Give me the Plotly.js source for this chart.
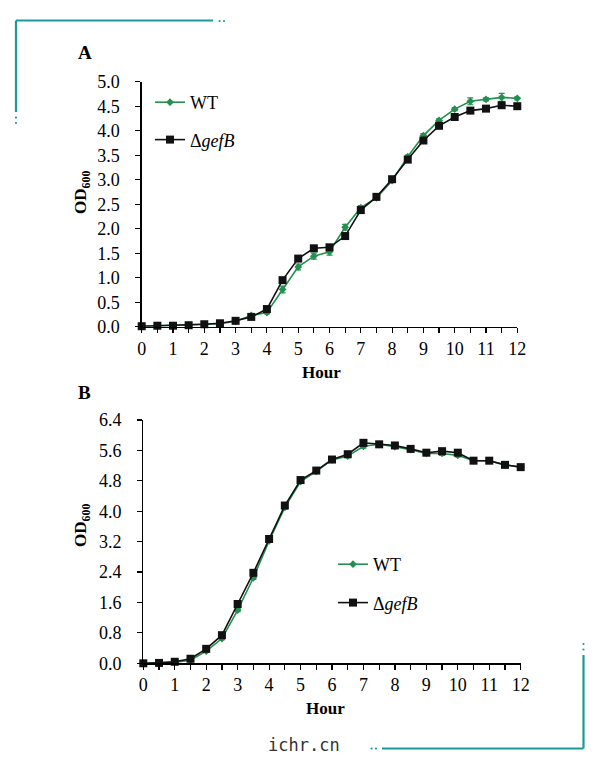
<!DOCTYPE html>
<html>
<head>
<meta charset="utf-8">
<script src="https://cdn.plot.ly/plotly-3.0.1.min.js"></script>
<style>html,body{margin:0;padding:0;background:#fff;}#chart{width:600px;height:766px;}</style>
</head>
<body>
<div id="chart"></div>
<script>
// ---- data ----
const hours = [0,0.5,1,1.5,2,2.5,3,3.5,4,4.5,5,5.5,6,6.5,7,7.5,8,8.5,9,9.5,10,10.5,11,11.5,12];
const xTickVals = [0,1,2,3,4,5,6,7,8,9,10,11,12];
const xTickText = ['0','1','2','3','4','5','6','7','8','9','10','11','12'];

const wtA    = [0.01,0.02,0.02,0.03,0.04,0.06,0.11,0.23,0.29,0.76,1.22,1.44,1.53,2.03,2.43,2.63,2.98,3.47,3.90,4.21,4.44,4.60,4.64,4.68,4.66];
const wtAErr = [0,0,0,0,0,0,0.01,0.02,0.03,0.07,0.06,0.06,0.07,0.06,0.04,0.03,0.03,0.03,0.04,0.03,0.03,0.07,0.03,0.08,0.03];
const mutA    = [0.01,0.02,0.02,0.03,0.05,0.07,0.12,0.20,0.36,0.95,1.39,1.60,1.62,1.85,2.38,2.65,3.01,3.41,3.80,4.10,4.28,4.41,4.45,4.52,4.50];
const mutAErr = [0,0,0,0,0,0,0.01,0.02,0.02,0.04,0.03,0.03,0.03,0.03,0.03,0.03,0.03,0.03,0.03,0.03,0.03,0.03,0.03,0.04,0.03];

const wtB    = [0.00,0.01,0.03,0.08,0.32,0.65,1.40,2.25,3.22,4.10,4.78,5.05,5.35,5.45,5.71,5.76,5.70,5.62,5.52,5.52,5.47,5.33,5.33,5.22,5.16];
const wtBErr = [0,0,0,0,0.02,0.03,0.04,0.04,0.04,0.04,0.04,0.03,0.03,0.04,0.05,0.07,0.04,0.04,0.04,0.05,0.04,0.04,0.03,0.03,0.03];
const mutB    = [0.00,0.01,0.04,0.12,0.38,0.74,1.56,2.38,3.27,4.15,4.82,5.07,5.36,5.50,5.80,5.76,5.73,5.64,5.54,5.58,5.54,5.33,5.33,5.22,5.16];
const mutBErr = [0,0,0,0,0.02,0.03,0.04,0.04,0.04,0.04,0.04,0.03,0.03,0.04,0.08,0.05,0.04,0.04,0.04,0.04,0.05,0.04,0.03,0.03,0.03];

const seriesNames = ['WT', 'Δ<i>gefB</i>'];
const green = '#23904f';
const black = '#111111';

// ---- helpers for pixel -> paper ----
const W = 600, H = 766;
const px = x => x / W;
const py = y => 1 - y / H;

const serif = 'Liberation Serif';

function wtTrace(y, err, xa, ya, leg) {
  return {
    x: hours, y: y, type: 'scatter', mode: 'lines+markers', name: seriesNames[0],
    xaxis: xa, yaxis: ya, legend: leg, legendgroup: leg + 'wt',
    line: {color: green, width: 1.6},
    marker: {symbol: 'diamond', size: 6, color: green},
    error_y: {type: 'data', array: err, visible: true, color: green, thickness: 1.2, width: 3},
    cliponaxis: false
  };
}
function mutTrace(y, err, xa, ya, leg) {
  return {
    x: hours, y: y, type: 'scatter', mode: 'lines+markers', name: seriesNames[1],
    xaxis: xa, yaxis: ya, legend: leg, legendgroup: leg + 'mut',
    line: {color: black, width: 1.6},
    marker: {symbol: 'square', size: 8, color: black},
    error_y: {type: 'data', array: err, visible: true, color: black, thickness: 1.2, width: 3},
    cliponaxis: false
  };
}

const data = [
  wtTrace(wtA, wtAErr, 'x', 'y', 'legend'),
  mutTrace(mutA, mutAErr, 'x', 'y', 'legend'),
  wtTrace(wtB, wtBErr, 'x2', 'y2', 'legend2'),
  mutTrace(mutB, mutBErr, 'x2', 'y2', 'legend2')
];

function axisCommon() {
  return {
    showgrid: false, zeroline: false, showline: true, linecolor: '#000', linewidth: 1.3,
    ticks: 'outside', ticklen: 5, tickwidth: 1.2, tickcolor: '#000',
    tickfont: {family: serif, size: 18, color: '#000'}
  };
}
function xMinor() {
  return {dtick: 0.5, ticks: 'outside', ticklen: 5, tickwidth: 1.2, tickcolor: '#000', showgrid: false};
}

const teal = '#1b9a9a';
const shapes = [
  {type: 'line', xref: 'paper', yref: 'paper', x0: px(16), y0: py(20.5), x1: px(213), y1: py(20.5), line: {color: teal, width: 2.2}},
  {type: 'line', xref: 'paper', yref: 'paper', x0: px(16), y0: py(20.5), x1: px(16), y1: py(112), line: {color: teal, width: 2.2}},
  {type: 'line', xref: 'paper', yref: 'paper', x0: px(583.5), y0: py(655), x1: px(583.5), y1: py(748.5), line: {color: teal, width: 2.2}},
  {type: 'line', xref: 'paper', yref: 'paper', x0: px(382), y0: py(748.5), x1: px(583.5), y1: py(748.5), line: {color: teal, width: 2.2}}
];
const dots = [[219.5,21],[224,21],[16,117.5],[16,123],[583.5,644],[583.5,649.5],[371.5,748.5],[376,748.5]];
dots.forEach(d => shapes.push({type: 'circle', xref: 'paper', yref: 'paper',
  x0: px(d[0]-1.1), x1: px(d[0]+1.1), y0: py(d[1]-1.1), y1: py(d[1]+1.1),
  fillcolor: teal, line: {width: 0}}));

function ann(text, x, y, size, extra) {
  return Object.assign({text: text, xref: 'paper', yref: 'paper', x: px(x), y: py(y),
    xanchor: 'center', yanchor: 'middle', showarrow: false,
    font: {family: serif, size: size, color: '#000'}}, extra || {});
}

const annotations = [
  ann('<b>A</b>', 85, 52, 19),
  ann('<b>B</b>', 84, 393, 19),
  ann('<b>Hour</b>', 321, 372, 17),
  ann('<b>Hour</b>', 325, 708, 17),
  ann('<b>OD<sub>600</sub></b>', 82, 193, 17, {textangle: -90}),
  ann('<b>OD<sub>600</sub></b>', 82, 526, 17, {textangle: -90}),
  ann('ichr.cn', 304, 745, 17, {font: {family: 'DejaVu Sans Mono', size: 17, color: '#333'}})
];

const layout = {
  width: W, height: H,
  margin: {l: 0, r: 0, t: 0, b: 0},
  font: {family: serif, size: 18, color: '#000'},
  paper_bgcolor: '#fff', plot_bgcolor: 'rgba(0,0,0,0)',
  showlegend: true,
  xaxis: Object.assign(axisCommon(), {domain: [px(141.7), px(517.3)], range: [0, 12], anchor: 'y', tickmode: 'array', tickvals: xTickVals, ticktext: xTickText, minor: xMinor()}),
  yaxis: Object.assign(axisCommon(), {domain: [py(326.7), py(81.7)], range: [0, 5], anchor: 'x', dtick: 0.5, tickformat: '.1f', ticklabelstandoff: 12}),
  xaxis2: Object.assign(axisCommon(), {domain: [px(143.3), px(520.7)], range: [0, 12], anchor: 'y2', tickmode: 'array', tickvals: xTickVals, ticktext: xTickText, minor: xMinor()}),
  yaxis2: Object.assign(axisCommon(), {domain: [py(663.3), py(420)], range: [0, 6.4], anchor: 'x2', dtick: 0.8, tickformat: '.1f', ticklabelstandoff: 12}),
  legend: {x: px(150), y: py(84), xanchor: 'left', yanchor: 'top', traceorder: 'grouped', tracegroupgap: 11,
    bgcolor: 'rgba(0,0,0,0)', font: {family: serif, size: 18, color: '#000'}},
  legend2: {x: px(333), y: py(546), xanchor: 'left', yanchor: 'top', traceorder: 'grouped', tracegroupgap: 12,
    bgcolor: 'rgba(0,0,0,0)', font: {family: serif, size: 18, color: '#000'}},
  shapes: shapes,
  annotations: annotations
};

Plotly.newPlot('chart', data, layout, {displayModeBar: false, staticPlot: true});
</script>
</body>
</html>
